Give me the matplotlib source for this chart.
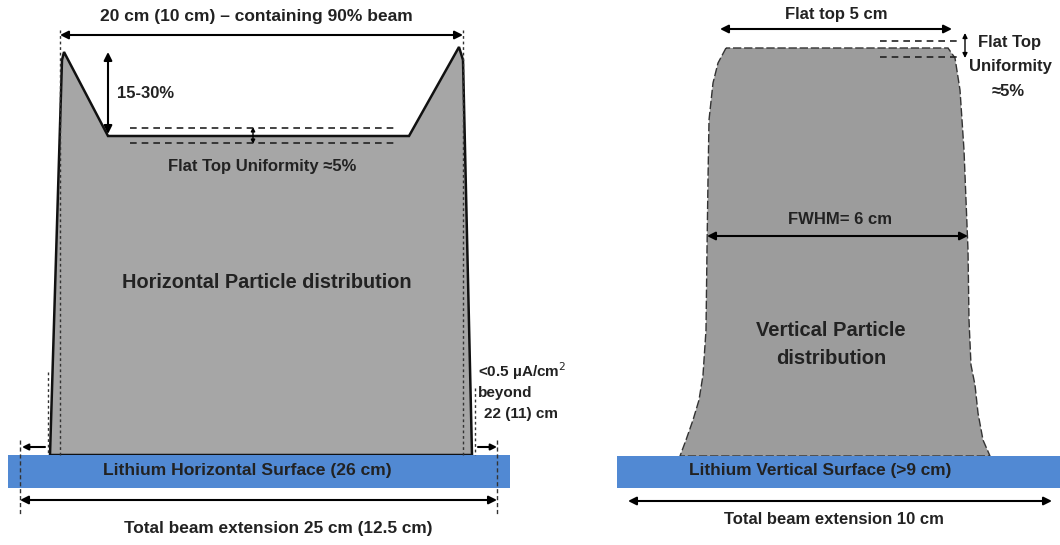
import matplotlib.pyplot as plt
from matplotlib.patches import Polygon, Rectangle

plt.rcParams['font.family'] = ['Liberation Sans Narrow', 'Liberation Sans', 'DejaVu Sans']

# Diagram geometry (canvas pixels, y grows downwards)
# Horizontal particle distribution outline
h_x = [50, 62, 64, 108, 409, 459, 463, 472]
h_y = [455, 60, 52, 136, 136, 47, 60, 455]
# Vertical particle distribution outline (left side then right side, top to bottom)
v_left_x = [726, 718, 713, 709, 708, 707, 706, 703, 699, 693, 686, 680]
v_left_y = [48, 63, 83, 120, 180, 250, 330, 375, 400, 420, 440, 456]
v_right_x = [948, 955, 960, 964, 966, 968, 969, 971, 975, 978, 983, 990]
v_right_y = [48, 58, 90, 150, 200, 250, 320, 365, 385, 413, 440, 456]

h_fill = '#a6a6a6'
v_fill = '#9c9c9c'
li_blue = '#5189d3'

fig = plt.figure(figsize=(10.6, 5.45), dpi=100)
ax = fig.add_axes([0, 0, 1, 1])
ax.set_xlim(0, 1060)
ax.set_ylim(545, 0)
ax.axis('off')


def arrow(x0, y0, x1, y1, style='<|-|>', lw=1.5, ms=12):
    ax.annotate('', xy=(x1, y1), xytext=(x0, y0),
                arrowprops=dict(arrowstyle=style, color='black', lw=lw,
                                mutation_scale=ms, shrinkA=0, shrinkB=0))


def label(x, y, s, size=12, ha='center', **kw):
    ax.text(x, y, s, fontsize=size, fontweight='bold', ha=ha, va='center',
            color='#222222', **kw)


# ---- left panel: horizontal distribution ----
ax.add_patch(Polygon(list(zip(h_x, h_y)), closed=True, facecolor=h_fill,
                     edgecolor='#111111', lw=1.8, zorder=2))
ax.add_patch(Rectangle((8, 455), 502, 33, facecolor=li_blue, edgecolor='none', zorder=3))

# dashed guides
ax.plot([60, 60], [30, 455], ls=(0, (2, 2)), color='#333333', lw=1, zorder=4)
ax.plot([463, 463], [30, 455], ls=(0, (2, 2)), color='#333333', lw=1, zorder=4)
ax.plot([48, 48], [372, 455], ls=(0, (2, 2)), color='#333333', lw=1, zorder=4)
ax.plot([475, 475], [388, 455], ls=(0, (2, 2)), color='#333333', lw=1, zorder=4)
ax.plot([20, 20], [440, 515], ls=(0, (3, 2)), color='#333333', lw=1, zorder=4)
ax.plot([497, 497], [440, 515], ls=(0, (3, 2)), color='#333333', lw=1, zorder=4)
ax.plot([130, 395], [128, 128], ls=(0, (4, 3)), color='#222222', lw=1.2, zorder=4)
ax.plot([130, 395], [143, 143], ls=(0, (4, 3)), color='#222222', lw=1.2, zorder=4)

arrow(60, 35, 463, 35)
arrow(108, 52, 108, 134)
arrow(253, 127, 253, 144, ms=6, lw=1)
arrow(45, 447, 22, 447, style='-|>', ms=9)
arrow(478, 447, 497, 447, style='-|>', ms=9)
arrow(20, 500, 497, 500)

label(256, 17, '20 cm (10 cm) \u2013 containing 90% beam', size=12.5)
label(117, 93, '15-30%', ha='left')
label(262, 166, 'Flat Top Uniformity \u22485%')
label(267, 283, 'Horizontal Particle distribution', size=14.3)
label(478, 371, '<0.5 \u00b5A/cm$^{2}$', size=11, ha='left')
label(478, 393, 'beyond', size=11, ha='left')
label(484, 414, '22 (11) cm', size=11, ha='left')
label(247, 471, 'Lithium Horizontal Surface (26 cm)', size=12.6)
label(278, 528, 'Total beam extension 25 cm (12.5 cm)', size=12.4)

# ---- right panel: vertical distribution ----
vx = v_left_x + v_right_x[::-1]
vy = v_left_y + v_right_y[::-1]
ax.add_patch(Polygon(list(zip(vx, vy)), closed=True, facecolor=v_fill,
                     edgecolor='#333333', lw=1, ls=(0, (6, 2)), zorder=2))
ax.add_patch(Rectangle((617, 456), 443, 32, facecolor=li_blue, edgecolor='none', zorder=3))

ax.plot([880, 958], [41, 41], ls=(0, (4, 3)), color='#222222', lw=1.2, zorder=4)
ax.plot([880, 958], [57, 57], ls=(0, (4, 3)), color='#222222', lw=1.2, zorder=4)

arrow(720, 29, 952, 29)
arrow(965, 33, 965, 58, ms=7, lw=1)
arrow(707, 236, 968, 236)
arrow(628, 501, 1052, 501)

label(836, 15, 'Flat top 5 cm')
label(1010, 42, 'Flat Top')
label(1010, 67, 'Uniformity')
label(1008, 92, '\u22485%')
label(840, 220, 'FWHM= 6 cm')
label(831, 330, 'Vertical Particle', size=14.5)
label(831, 359, 'distribution', size=14.5)
label(820, 471, 'Lithium Vertical Surface (>9 cm)', size=12.4)
label(834, 519, 'Total beam extension 10 cm')

fig.savefig('out.png', dpi=100)
